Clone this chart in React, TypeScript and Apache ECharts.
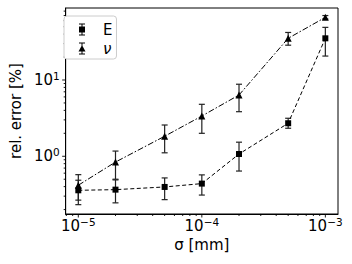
import React, { useEffect, useRef } from "react";
import * as echarts from "echarts";

const sigma = [1e-5, 2e-5, 5e-5, 1e-4, 2e-4, 5e-4, 1e-3];
const errE = [0.358, 0.365, 0.396, 0.438, 1.07, 2.71, 35.2];
const errELow = [0.232, 0.245, 0.27, 0.31, 0.64, 2.33, 20.6];
const errEHigh = [0.485, 0.49, 0.52, 0.57, 1.53, 3.15, 49];
const errNu = [0.417, 0.84, 1.83, 3.37, 6.36, 35.2, 66.3];
const errNuLow = [0.266, 0.5, 1.11, 2.0, 3.84, 28.6, 63];
const errNuHigh = [0.574, 1.17, 2.57, 4.8, 8.8, 42, 70];
const xMajor = [1e-5, 1e-4, 1e-3];
const yMajor = [1, 10];
const X_MIN = 7.9e-6;
const X_MAX = 1.266e-3;
const Y_MIN = 0.175;
const Y_MAX = 87.9;

const FONT = "DejaVu Sans";

function minorTicks(min: number, max: number): number[] {
  const out: number[] = [];
  for (let e = Math.floor(Math.log10(min)); e <= Math.ceil(Math.log10(max)); e++) {
    for (let m = 2; m <= 9; m++) {
      const v = m * Math.pow(10, e);
      if (v >= min && v <= max) out.push(v);
    }
  }
  return out;
}

const supMap: Record<string, string> = { "-": "−" };
function fmt(v: number): string {
  const e = Math.log10(v);
  const r = Math.round(e);
  if (Math.abs(e - r) > 1e-6) return "";
  const s = String(r).split("").map((c) => supMap[c] || c).join("");
  return "{b|10}{s|" + s + "}";
}

const BOX = "M0,0L0.01,0ZM32,12L31.99,12Z";
const SQ_ICON =
  "path://" + BOX + "M13,0H19V1H16.5V3H19V9H16.5V11H19V12H13V11H15.5V9H13V3H15.5V1H13Z";
const TRI_ICON =
  "path://" + BOX + "M13,0H19V1H16.5V3.4L19.5,9H16.5V11H19V12H13V11H15.5V9H12.5L15.5,3.4V1H13Z";

export default function App() {
  const ref = useRef<HTMLDivElement>(null);
  useEffect(() => {
    if (!ref.current) return;
    const chart = echarts.init(ref.current, null, { renderer: "svg" });
    const errStyle = { stroke: "#222", lineWidth: 1.2 };
    const errorBars = (lo: number[], hi: number[]) => ({
      type: "custom",
      silent: true,
      z: 1,
      data: sigma.map((x, i) => [x, lo[i], hi[i]]),
      encode: { x: 0, y: [1, 2] },
      renderItem: (params: any, api: any) => {
        const x = api.value(0);
        const p1 = api.coord([x, api.value(1)]);
        const p2 = api.coord([x, api.value(2)]);
        return {
          type: "group",
          children: [
            { type: "line", shape: { x1: p1[0], y1: p1[1], x2: p2[0], y2: p2[1] }, style: errStyle },
            { type: "line", shape: { x1: p1[0] - 3, y1: p1[1], x2: p1[0] + 3, y2: p1[1] }, style: errStyle },
            { type: "line", shape: { x1: p2[0] - 3, y1: p2[1], x2: p2[0] + 3, y2: p2[1] }, style: errStyle },
          ],
        };
      },
    });
    const tickStyle = { stroke: "#000", lineWidth: 0.9 };
    const xTicks = (vals: number[], len: number) => ({
      type: "custom",
      silent: true,
      data: vals.map((v) => [v, Y_MIN]),
      encode: { x: 0, y: 1 },
      renderItem: (params: any, api: any) => {
        const p = api.coord([api.value(0), Y_MIN]);
        return { type: "line", shape: { x1: p[0], y1: p[1], x2: p[0], y2: p[1] + len }, style: tickStyle };
      },
    });
    const yTicks = (vals: number[], len: number) => ({
      type: "custom",
      silent: true,
      data: vals.map((v) => [X_MIN, v]),
      encode: { x: 0, y: 1 },
      renderItem: (params: any, api: any) => {
        const p = api.coord([X_MIN, api.value(1)]);
        return { type: "line", shape: { x1: p[0], y1: p[1], x2: p[0] - len, y2: p[1] }, style: tickStyle };
      },
    });
    const labelRich = {
      b: { fontSize: 15, fontFamily: FONT, color: "#000" },
      s: { fontSize: 10.5, fontFamily: FONT, color: "#000", padding: [0, 0, 8, 0] },
    };
    chart.setOption({
      animation: false,
      backgroundColor: "#fff",
      grid: {
        left: 58,
        right: 14,
        top: 8,
        bottom: 50,
        show: true,
        borderColor: "#000",
        borderWidth: 1,
        backgroundColor: "transparent",
      },
      legend: {
        orient: "vertical",
        left: 64,
        top: 16,
        itemWidth: 32,
        itemHeight: 12,
        itemGap: 4,
        padding: [6, 4, 3, 2],
        borderColor: "#ccc",
        borderWidth: 1,
        borderRadius: 3,
        backgroundColor: "#fff",
        formatter: (name: string) => (name === "ν" ? "{i|ν}" : "{n|" + name + "}"),
        textStyle: {
          fontSize: 15,
          fontFamily: FONT,
          color: "#000",
          rich: {
            n: { fontSize: 15, fontFamily: FONT, color: "#000" },
            i: { fontSize: 15, fontFamily: FONT, color: "#000", fontStyle: "italic" },
          },
        },
        data: [
          { name: "E", icon: SQ_ICON },
          { name: "ν", icon: TRI_ICON },
        ],
      },
      xAxis: {
        type: "log",
        logBase: 10,
        min: X_MIN,
        max: X_MAX,
        name: "σ [mm]",
        nameLocation: "middle",
        nameGap: 20,
        nameTextStyle: { fontSize: 15, fontFamily: FONT, color: "#000" },
        axisLine: { lineStyle: { color: "#000", width: 1 } },
        axisTick: { show: false },
        splitLine: { show: false },
        axisLabel: {
          margin: 2,
          showMinLabel: false,
          showMaxLabel: false,
          formatter: fmt,
          rich: labelRich,
        },
      },
      yAxis: {
        type: "log",
        logBase: 10,
        min: Y_MIN,
        max: Y_MAX,
        name: "rel. error [%]",
        nameLocation: "middle",
        nameGap: 35,
        nameTextStyle: { fontSize: 15, fontFamily: FONT, color: "#000" },
        axisLine: { lineStyle: { color: "#000", width: 1 } },
        axisTick: { show: false },
        splitLine: { show: false },
        axisLabel: {
          margin: 6,
          showMinLabel: false,
          showMaxLabel: false,
          formatter: fmt,
          rich: labelRich,
        },
      },
      series: [
        errorBars(errELow, errEHigh),
        errorBars(errNuLow, errNuHigh),
        {
          name: "E",
          type: "line",
          z: 3,
          data: sigma.map((x, i) => [x, errE[i]]),
          symbol: "rect",
          symbolSize: 6,
          itemStyle: { color: "#000" },
          lineStyle: { color: "#000", width: 1, type: [4, 2.5] },
        },
        {
          name: "ν",
          type: "line",
          z: 3,
          data: sigma.map((x, i) => [x, errNu[i]]),
          symbol: "triangle",
          symbolSize: 7,
          itemStyle: { color: "#000" },
          lineStyle: { color: "#000", width: 1, type: [6, 2, 1.5, 2] },
        },
        xTicks(xMajor, 3.5),
        xTicks(minorTicks(X_MIN, X_MAX), 2),
        yTicks(yMajor, 3.5),
        yTicks(minorTicks(Y_MIN, Y_MAX), 2),
      ],
    });
    return () => chart.dispose();
  }, []);
  return <div ref={ref} style={{ width: 352, height: 264, position: "fixed", left: 0, top: 0 }} />;
}
